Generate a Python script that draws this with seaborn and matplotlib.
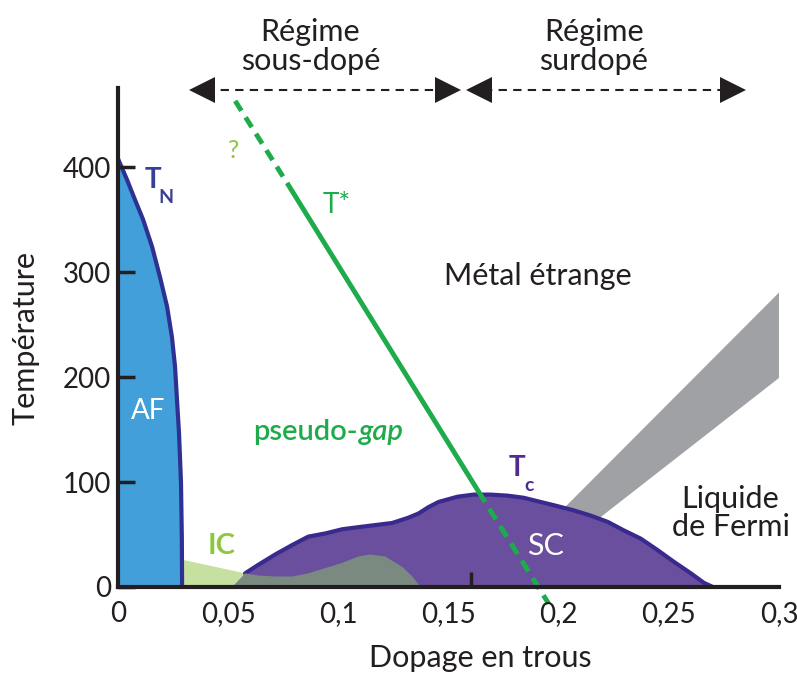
import matplotlib
matplotlib.use("Agg")
import matplotlib.pyplot as plt
import seaborn as sns
import pandas as pd

# ---------------------------------------------------------------------------
# data (doping p, temperature T)
# ---------------------------------------------------------------------------
# Neel line T_N (antiferromagnet)
tn_p = [0.0, 0.0041, 0.0077, 0.0114, 0.0155, 0.0191, 0.0223, 0.0245, 0.0259,
        0.0268, 0.0277, 0.0286, 0.0290, 0.0291]
tn_T = [408, 388, 369, 350, 324, 295, 267, 238, 210, 178, 147, 100, 46, 0]

# superconducting dome T_c
tc_p = [0.0577, 0.0636, 0.0714, 0.0791, 0.0864, 0.0941, 0.1018, 0.1091, 0.1168,
        0.1245, 0.1318, 0.1364, 0.1409, 0.1455, 0.1541, 0.1614, 0.1691, 0.1768,
        0.1841, 0.1918, 0.1995, 0.2068, 0.2145, 0.2223, 0.2295, 0.2373, 0.2450,
        0.2523, 0.2600, 0.2659, 0.2700]
tc_T = [13, 21, 31, 40, 48, 51, 55, 57, 59, 61, 66, 70, 76, 81, 86, 88, 88, 87,
        85, 81, 77, 73, 68, 62, 54, 46, 35, 24, 13, 4, 0]

# IC region (light green)
ic_p = [0.0291, 0.0291, 0.0577, 0.0518]
ic_T = [0, 26, 13, 0]

# overlap region (grey-green)
ov_p = [0.0518, 0.0577, 0.0636, 0.0714, 0.0791, 0.0864, 0.0941, 0.1018, 0.1091,
        0.1145, 0.1214, 0.1291, 0.1336, 0.1373]
ov_T = [0, 13, 11, 10, 10, 13, 18, 23, 29, 31, 29, 19, 10, 0]

# Fermi liquid crossover band (grey)
fl_p = [0.200, 0.3036, 0.3036, 0.212]
fl_T = [70, 288, 205, 55]

# pseudogap line T*
ts_p_top = [0.0532, 0.0773]
ts_T_top = [463, 383]
ts_p_mid = [0.0773, 0.1636]
ts_T_mid = [383, 91]
ts_p_low = [0.1636, 0.1955]
ts_T_low = [91, -16]

xticks = [0, 0.05, 0.1, 0.15, 0.2, 0.25, 0.3]
xlabels = ["0", "0,05", "0,1", "0,15", "0,2", "0,25", "0,3"]
xmarks = [0.05, 0.1, 0.16, 0.2, 0.25, 0.3]
yticks = [0, 100, 200, 300, 400]

# ---------------------------------------------------------------------------
# style
# ---------------------------------------------------------------------------
sns.set_theme(style="white")
plt.rcParams["font.family"] = ["Lato", "DejaVu Sans"]
ink = "#231f20"
green = "#1dab4b"

fig = plt.figure(figsize=(7.97, 6.73), dpi=100)
ax = fig.add_axes([0.148, 0.1278, 0.8294, 0.741])
ax.set_xlim(0, 0.3)
ax.set_ylim(0, 475)

# regions
ax.fill_betweenx(tn_T, 0, tn_p, color="#429fd9", lw=0, zorder=2)
ax.fill(ic_p, ic_T, color="#c6e0a0", lw=0, zorder=2)
ax.fill(fl_p, fl_T, color="#a0a1a4", lw=0, zorder=2)
ax.fill([0.054] + tc_p, [0] + tc_T, color="#6a4f9e", lw=0, zorder=3)

edges = pd.DataFrame({"p": tn_p, "T": tn_T})
sns.lineplot(data=edges, x="p", y="T", sort=False, estimator=None,
             color="#2e3192", lw=3, ax=ax, zorder=4)
dome = pd.DataFrame({"p": tc_p, "T": tc_T})
sns.lineplot(data=dome, x="p", y="T", sort=False, estimator=None,
             color="#3b2a8e", lw=3, ax=ax, zorder=4)
ax.fill(ov_p, ov_T, color="#7b8a80", lw=0, zorder=5)

# T* line
sns.lineplot(x=ts_p_mid, y=ts_T_mid, color=green, lw=3.5, ax=ax, zorder=6)
ax.plot(ts_p_top, ts_T_top, color=green, lw=3.5, dashes=(2.4, 1.6), zorder=6, clip_on=False)
ax.plot(ts_p_low, ts_T_low, color=green, lw=3.5, dashes=(2.6, 1.6), zorder=6, clip_on=False)

# regime arrows
yarr = 473
for a, b in [(0.032, 0.156), (0.158, 0.285)]:
    ax.plot([a + 0.008, b - 0.008], [yarr, yarr], color=ink, lw=1.5,
            dashes=(4, 3), clip_on=False, zorder=7)
    ax.plot([a + 0.006], [yarr], marker="<", ms=19, color=ink, mew=0,
            clip_on=False, zorder=7)
    ax.plot([b - 0.006], [yarr], marker=">", ms=19, color=ink, mew=0,
            clip_on=False, zorder=7)

# labels
txt = dict(color=ink, ha="center", va="center", clip_on=False, zorder=8)
ax.text(0.0873, 515, "Régime\nsous-dopé", fontsize=22, linespacing=1.05, **txt)
ax.text(0.216, 515, "Régime\nsurdopé", fontsize=22, linespacing=1.05, **txt)
ax.text(0.1905, 296, "Métal étrange", fontsize=22, **txt)
ax.text(0.278, 70, "Liquide\nde Fermi", fontsize=22, linespacing=1.0, **txt)
ax.text(0.0136, 168, "AF", fontsize=20, **{**txt, "color": "white"})
ax.text(0.194, 39, "SC", fontsize=22, **{**txt, "color": "white"})
ax.text(0.0468, 39, "IC", fontsize=21, fontweight="bold", **{**txt, "color": "#8dc63f"})
ax.text(0.0159, 388, "T", fontsize=20, fontweight="bold", **{**txt, "color": "#3a3f95"})
ax.text(0.0216, 371, "N", fontsize=14, fontweight="bold", **{**txt, "color": "#3a3f95"})
ax.text(0.181, 113, "T", fontsize=20, fontweight="bold", **{**txt, "color": "#4f2d8f"})
ax.text(0.1865, 97, "c", fontsize=14, fontweight="bold", **{**txt, "color": "#4f2d8f"})
ax.text(0.0991, 364, "T*", fontsize=20, **{**txt, "color": green})
ax.text(0.0523, 416, "?", fontsize=18, **{**txt, "color": "#8dc63f"})
ax.text(0.1087, 148, "pseudo-", fontsize=21, fontweight="semibold",
        **{**txt, "ha": "right", "color": green})
ax.text(0.1093, 148, "gap", fontsize=21, fontweight="semibold", style="italic",
        **{**txt, "ha": "left", "color": green})

# axes
for s in ["top", "right"]:
    ax.spines[s].set_visible(False)
for s in ["left", "bottom"]:
    ax.spines[s].set_linewidth(3)
    ax.spines[s].set_color(ink)
    ax.spines[s].set_zorder(9)
ax.xaxis.set_zorder(10)
ax.yaxis.set_zorder(10)

ax.set_xticks(xticks)
ax.set_xticklabels(xlabels)
ax.set_xticks(xmarks, minor=True)
ax.set_yticks(yticks)
ax.tick_params(axis="x", which="major", length=0, pad=10, labelsize=20, labelcolor=ink)
ax.tick_params(axis="x", which="minor", direction="in", length=11, width=2.5,
               color=ink, bottom=True)
ax.tick_params(axis="y", which="major", direction="in", length=12, width=2.5,
               color=ink, pad=5, labelsize=20, labelcolor=ink, left=True)
ax.set_xlabel("Dopage en trous", fontsize=22, color=ink)
ax.set_ylabel("Température", fontsize=22, color=ink)
ax.xaxis.set_label_coords(0.548, -0.114)
ax.yaxis.set_label_coords(-0.118, 0.5)

fig.savefig("out.png", dpi=100)
